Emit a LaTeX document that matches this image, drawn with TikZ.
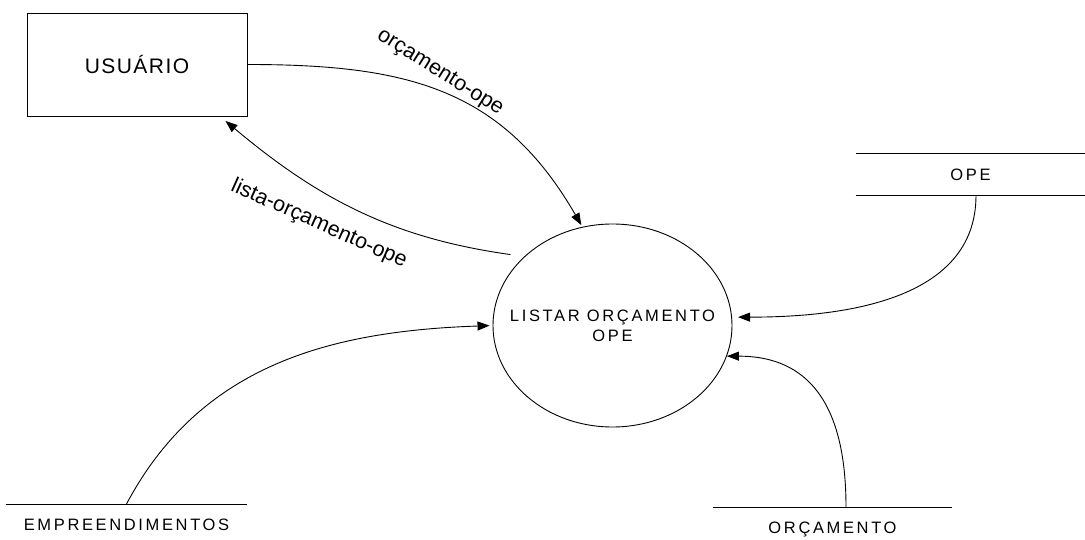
\documentclass[tikz,border=0pt]{standalone}
\usepackage{fontspec}
\setmainfont{Liberation Sans}
\newfontfamily\dfdcaps[LetterSpace=16]{Liberation Sans}
\newfontfamily\dfdword[LetterSpace=7]{Liberation Sans}
\usetikzlibrary{arrows.meta,shapes.geometric}

\begin{document}
\begin{tikzpicture}[x=1pt,y=-1pt,line width=0.9pt,
		>={Triangle[length=12pt,width=9pt]},
		entity/.style={draw,rectangle,minimum width=220pt,minimum height=103pt,
			font=\dfdword\fontsize{21}{25}\selectfont},
		process/.style={draw,ellipse,minimum width=239pt,minimum height=203pt,inner ysep=0pt,
			inner xsep=-25pt,align=center,font=\dfdcaps\fontsize{16.5}{20}\selectfont},
		store/.style={inner sep=0pt,text height=26pt,text depth=0pt,
			font=\dfdcaps\fontsize{16.5}{20}\selectfont},
		flow/.style={inner sep=0pt,font=\fontsize{21.5}{26}\selectfont}]

		      \useasboundingbox (0,0) rectangle (1085,540);

		      \node[entity] (usr) at (137,64.5) {USUÁRIO};
		      \node[process] (proc) at (612.5,325.5) {LISTAR ORÇAMENTO\\OPE};
		      \node[store,minimum width=229pt,minimum height=41pt,text height=12pt] (ope) at (970.5,174.5) {OPE};
		      \node[store,anchor=north,minimum width=241pt] (emp) at (126.5,504) {EMPREENDIMENTOS};
		      \node[store,anchor=north,minimum width=239pt] (orc) at (832.5,507) {ORÇAMENTO};

		      \draw (ope.north west) -- (ope.north east)
		            (ope.south west) -- (ope.south east)
		            (emp.north west) -- (emp.north east)
		            (orc.north west) -- (orc.north east);

		      \node[flow,rotate=-32] (lblin) at (440,73) {orçamento-ope};
		      \node[flow,rotate=-24] (lblout) at (319,224) {lista-orçamento-ope};

		      \path[->] (usr.east) edge [out=0,in=120,looseness=1.1,shorten >=2pt] (proc.107)
		                (proc.142) edge [out=172,in=-40,shorten <=14pt,shorten >=7pt] (usr.-32)
		                ([xshift=5.5pt]ope.south) edge [out=-90,in=0,shorten >=6pt] (proc.4)
		                ([xshift=13.5pt]orc.north) edge [out=90,in=0,looseness=1.2] (proc.-15)
		                (emp.north) edge [out=62,in=182,shorten >=3pt] (proc.180);
		    \end{tikzpicture}
\end{document}
